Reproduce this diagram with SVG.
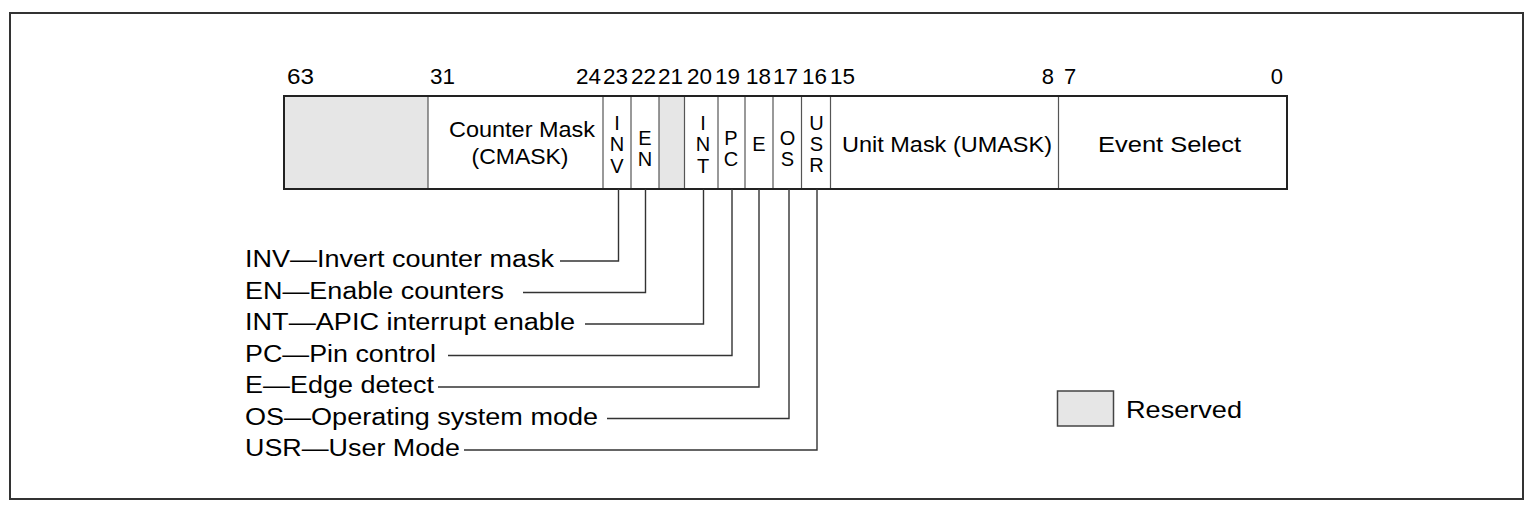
<svg xmlns="http://www.w3.org/2000/svg" width="1534" height="512" viewBox="0 0 1534 512">
<style>
text{font-family:"Liberation Sans",Arial,Helvetica,sans-serif;fill:#000}
.bit{font-size:22px}
.lbl{font-size:22px;text-anchor:middle}
.v{font-size:20px;text-anchor:middle}
.leg{font-size:23px}
.div{stroke:#555;stroke-width:1.2;fill:none}
.res{fill:#e6e6e6;stroke:none}
.con{stroke:#333;stroke-width:1.4;fill:none}
</style>
<rect x="10" y="13" width="1513" height="486" fill="#fff" stroke="#333" stroke-width="2"/>
<g id="bits">
<text class="bit" x="287" y="84" textLength="27" lengthAdjust="spacingAndGlyphs">63</text>
<text class="bit" x="430" y="84" textLength="25" lengthAdjust="spacingAndGlyphs">31</text>
<text class="bit" x="576" y="84" textLength="25" lengthAdjust="spacingAndGlyphs">24</text>
<text class="bit" x="603" y="84" textLength="25" lengthAdjust="spacingAndGlyphs">23</text>
<text class="bit" x="631" y="84" textLength="25" lengthAdjust="spacingAndGlyphs">22</text>
<text class="bit" x="658" y="84" textLength="25" lengthAdjust="spacingAndGlyphs">21</text>
<text class="bit" x="687" y="84" textLength="25" lengthAdjust="spacingAndGlyphs">20</text>
<text class="bit" x="715" y="84" textLength="25" lengthAdjust="spacingAndGlyphs">19</text>
<text class="bit" x="746" y="84" textLength="25" lengthAdjust="spacingAndGlyphs">18</text>
<text class="bit" x="773" y="84" textLength="25" lengthAdjust="spacingAndGlyphs">17</text>
<text class="bit" x="802" y="84" textLength="25" lengthAdjust="spacingAndGlyphs">16</text>
<text class="bit" x="830" y="84" textLength="25" lengthAdjust="spacingAndGlyphs">15</text>
<text class="bit" x="1054" y="84" text-anchor="end">8</text>
<text class="bit" x="1064" y="84">7</text>
<text class="bit" x="1283" y="84" text-anchor="end">0</text>
</g>
<g id="register">
<rect x="284" y="96" width="1003" height="93" fill="#fff"/>
<rect id="res-hi" class="res" x="285" y="97" width="143" height="91"/>
<rect id="res-21" class="res" x="659" y="97" width="25" height="91"/>
<line class="div" x1="428" y1="96" x2="428" y2="189" stroke="#777"/>
<line class="div" x1="603" y1="96" x2="603" y2="189"/>
<line class="div" x1="631" y1="96" x2="631" y2="189"/>
<line class="div" x1="659" y1="96" x2="659" y2="189"/>
<line class="div" x1="684.5" y1="96" x2="684.5" y2="189" stroke="#888"/>
<line class="div" x1="718" y1="96" x2="718" y2="189"/>
<line class="div" x1="745" y1="96" x2="745" y2="189"/>
<line class="div" x1="773" y1="96" x2="773" y2="189"/>
<line class="div" x1="801.5" y1="96" x2="801.5" y2="189" stroke="#888"/>
<line class="div" x1="830.5" y1="96" x2="830.5" y2="189"/>
<line class="div" x1="1058.5" y1="96" x2="1058.5" y2="189"/>
<rect x="284" y="96" width="1003" height="93" fill="none" stroke="#222" stroke-width="2"/>
</g>
<g id="cmask">
<text class="lbl" x="522" y="137" textLength="146" lengthAdjust="spacingAndGlyphs">Counter Mask</text>
<text class="lbl" x="520" y="164" textLength="97" lengthAdjust="spacingAndGlyphs">(CMASK)</text>
</g>
<g id="inv"><text class="v" x="617" y="129.5">I</text><text class="v" x="617" y="151">N</text><text class="v" x="617" y="173">V</text></g>
<g id="en"><text class="v" x="645" y="145">E</text><text class="v" x="645" y="166">N</text></g>
<g id="int"><text class="v" x="703" y="129.5">I</text><text class="v" x="703" y="151">N</text><text class="v" x="703" y="173">T</text></g>
<g id="pc"><text class="v" x="731" y="145">P</text><text class="v" x="731" y="166">C</text></g>
<g id="e"><text class="v" x="759" y="151">E</text></g>
<g id="os"><text class="v" x="787.5" y="145">O</text><text class="v" x="787.5" y="166">S</text></g>
<g id="usr"><text class="v" x="816.5" y="130">U</text><text class="v" x="816.5" y="151">S</text><text class="v" x="816.5" y="172">R</text></g>
<g id="umask"><text class="lbl" x="947" y="152" textLength="210" lengthAdjust="spacingAndGlyphs">Unit Mask (UMASK)</text></g>
<g id="evsel"><text class="lbl" x="1169.5" y="152" textLength="143" lengthAdjust="spacingAndGlyphs">Event Select</text></g>
<g id="connectors">
<polyline class="con" points="560,261 618.5,261 618.5,189"/>
<polyline class="con" points="523,292.5 645.5,292.5 645.5,189"/>
<polyline class="con" points="585,324 703.5,324 703.5,189"/>
<polyline class="con" points="448,355.5 732,355.5 732,189"/>
<polyline class="con" points="438,387 759,387 759,189"/>
<polyline class="con" points="607,418.5 789,418.5 789,189"/>
<polyline class="con" points="464,450 817,450 817,189"/>
</g>
<g id="legend-labels">
<text class="leg" x="245" y="267" textLength="309" lengthAdjust="spacingAndGlyphs">INV—Invert counter mask</text>
<text class="leg" x="245" y="298.5" textLength="259" lengthAdjust="spacingAndGlyphs">EN—Enable counters</text>
<text class="leg" x="245" y="330" textLength="330" lengthAdjust="spacingAndGlyphs">INT—APIC interrupt enable</text>
<text class="leg" x="245" y="361.5" textLength="191" lengthAdjust="spacingAndGlyphs">PC—Pin control</text>
<text class="leg" x="245" y="393" textLength="189" lengthAdjust="spacingAndGlyphs">E—Edge detect</text>
<text class="leg" x="245" y="424.5" textLength="353" lengthAdjust="spacingAndGlyphs">OS—Operating system mode</text>
<text class="leg" x="245" y="456" textLength="215" lengthAdjust="spacingAndGlyphs">USR—User Mode</text>
</g>
<g id="key">
<rect x="1057.5" y="391" width="56" height="35" fill="#e6e6e6" stroke="#444" stroke-width="1.5"/>
<text x="1126" y="418" font-size="24" textLength="116" lengthAdjust="spacingAndGlyphs">Reserved</text>
</g>
</svg>
